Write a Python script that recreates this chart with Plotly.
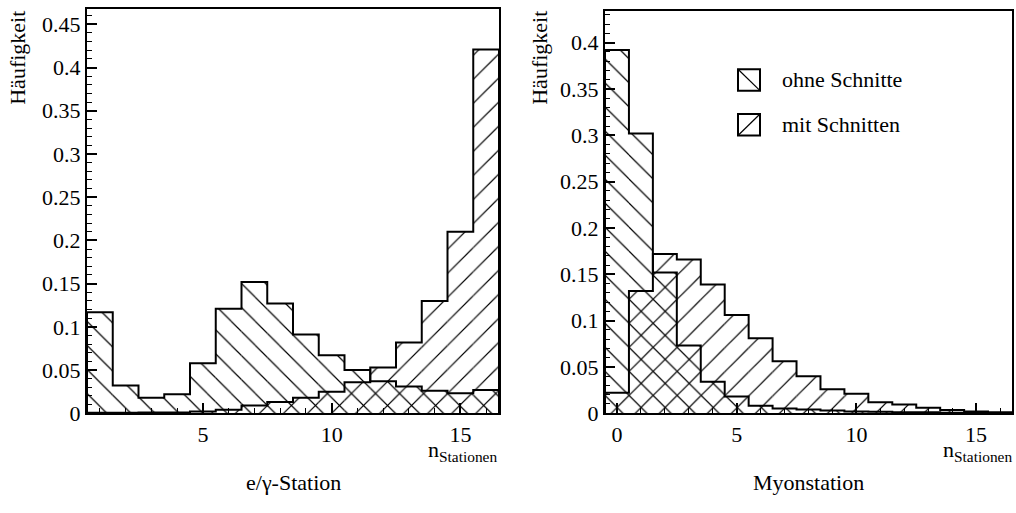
import plotly.graph_objects as go

# ---------------- data ----------------
# Left panel: e/gamma-Station, n_Stationen = 1..16
eg_bins = list(range(1, 17))
eg_ohne = [0.117, 0.032, 0.018, 0.022, 0.058, 0.121, 0.152, 0.127,
           0.091, 0.067, 0.050, 0.037, 0.031, 0.026, 0.023, 0.027]
eg_mit = [0.0005, 0.0005, 0.001, 0.001, 0.002, 0.004, 0.009, 0.013,
          0.018, 0.025, 0.036, 0.053, 0.082, 0.130, 0.210, 0.421]

# Right panel: Myonstation, n_Stationen = 0..16
mu_bins = list(range(0, 17))
mu_ohne = [0.392, 0.302, 0.152, 0.073, 0.034, 0.018, 0.008, 0.005, 0.004,
           0.003, 0.002, 0.0015, 0.001, 0.001, 0.0005, 0.0003, 0.0]
mu_mit = [0.022, 0.132, 0.172, 0.166, 0.139, 0.106, 0.081, 0.056, 0.040,
          0.026, 0.021, 0.012, 0.0095, 0.006, 0.0035, 0.002, 0.001]

series_names = ["ohne Schnitte", "mit Schnitten"]
y_title = "Häufigkeit"
x_titles = ["e/γ-Station", "Myonstation"]
x_unit = "n<sub>Stationen</sub>"

# ---------------- style ----------------
W, H = 1016, 513
FONT = dict(family="Liberation Serif", size=22, color="black")
PAT = 17
SOL = 0.07


def px(x):
    return x / W


def py(y):
    return 1 - y / H


def step_xy(bins, vals):
    edges = [b - 0.5 for b in bins] + [bins[-1] + 0.5]
    xs = [edges[0]] + edges[:-1] + [edges[-1]]
    ys = [0] + list(vals) + [0]
    return xs, ys


fig = go.Figure()


def add_hist(bins, vals, shape, xa, ya):
    fig.add_trace(go.Bar(
        x=bins, y=vals, width=1.0, xaxis=xa, yaxis=ya, opacity=1,
        marker=dict(color="rgba(0,0,0,0)", line=dict(width=0),
                    pattern=dict(shape=shape, size=PAT, solidity=SOL,
                                 fgcolor="black", fgopacity=1,
                                 bgcolor="rgba(0,0,0,0)", fillmode="overlay")),
        showlegend=False, hoverinfo="skip"))
    sx, sy = step_xy(bins, vals)
    fig.add_trace(go.Scatter(
        x=sx, y=sy, mode="lines", line=dict(color="black", width=2, shape="hv"),
        xaxis=xa, yaxis=ya, showlegend=False, hoverinfo="skip"))


add_hist(eg_bins, eg_ohne, "\\", "x", "y")
add_hist(eg_bins, eg_mit, "/", "x", "y")
add_hist(mu_bins, mu_ohne, "\\", "x2", "y2")
add_hist(mu_bins, mu_mit, "/", "x2", "y2")

axis_common = dict(showline=True, linecolor="black", linewidth=2, mirror=True,
                   ticks="inside", ticklen=10, tickwidth=1.5, tickcolor="black",
                   showgrid=False, zeroline=False, tickfont=FONT)
minor_ticks = dict(ticks="inside", ticklen=5, tickcolor="black", tickwidth=1.2)

L = (87, 499, 9, 424)
R = (605, 1012, 11, 424)

fig.update_layout(
    width=W, height=H, margin=dict(l=0, r=0, t=0, b=0),
    paper_bgcolor="white", plot_bgcolor="white", barmode="overlay",
    font=FONT,
    xaxis=dict(domain=[px(L[0]), px(L[1])], range=[0.5, 16.5], tick0=0, dtick=5,
               minor=dict(dtick=1, **minor_ticks), anchor="y", **axis_common),
    yaxis=dict(domain=[py(L[3]), py(L[2])], range=[0, 0.468], dtick=0.05,
               minor=dict(dtick=0.01, **minor_ticks), anchor="x", **axis_common),
    xaxis2=dict(domain=[px(R[0]), px(R[1])], range=[-0.5, 16.5], tick0=0, dtick=5,
                minor=dict(dtick=1, **minor_ticks), anchor="y2", **axis_common),
    yaxis2=dict(domain=[py(R[3]), py(R[2])], range=[0, 0.4345], dtick=0.05,
                minor=dict(dtick=0.01, **minor_ticks), anchor="x2", **axis_common),
)

ann = []
# y titles (rotated, top-aligned)
for xpix in (18, 540):
    ann.append(dict(text=y_title, x=px(xpix), y=py(9), xref="paper", yref="paper",
                    textangle=-90, xanchor="center", yanchor="top", showarrow=False, font=FONT))
# x titles
ann.append(dict(text=x_titles[0], x=px((L[0] + L[1]) / 2), y=py(495), xref="paper", yref="paper",
                xanchor="center", yanchor="middle", showarrow=False, font=FONT))
ann.append(dict(text=x_titles[1], x=px((R[0] + R[1]) / 2), y=py(495), xref="paper", yref="paper",
                xanchor="center", yanchor="middle", showarrow=False, font=FONT))
for xr in (L[1], R[1] + 2):
    ann.append(dict(text=x_unit, x=px(xr), y=py(463), xref="paper", yref="paper",
                    xanchor="right", yanchor="middle", showarrow=False, font=FONT))

# legend (drawn boxes with a single hatch stroke)
shapes = []
leg_rows = [(71, 93, "\\"), (117, 139, "/")]
for (y0, y1, sh), name in zip(leg_rows, series_names):
    x0, x1 = 738, 760
    shapes.append(dict(type="rect", xref="paper", yref="paper",
                       x0=px(x0), x1=px(x1), y0=py(y1), y1=py(y0),
                       line=dict(color="black", width=2), fillcolor="rgba(0,0,0,0)"))
    if sh == "\\":
        shapes.append(dict(type="line", xref="paper", yref="paper",
                           x0=px(x0), y0=py(y0), x1=px(x1), y1=py(y1),
                           line=dict(color="black", width=1.2)))
    else:
        shapes.append(dict(type="line", xref="paper", yref="paper",
                           x0=px(x0), y0=py(y1), x1=px(x1), y1=py(y0),
                           line=dict(color="black", width=1.2)))
    ann.append(dict(text=name, x=px(780), y=py((y0 + y1) / 2), xref="paper", yref="paper",
                    xanchor="left", yanchor="middle", showarrow=False, font=FONT))

fig.update_layout(annotations=ann, shapes=shapes)
fig.write_html("out.html")
